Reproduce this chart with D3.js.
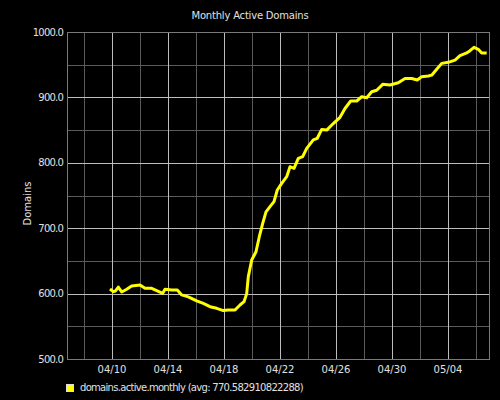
<!DOCTYPE html>
<html>
<head>
<meta charset="utf-8">
<script src="https://cdn.jsdelivr.net/npm/d3@7"></script>
<style>
  body { margin: 0; background: #000; }
  text { font-family: "DejaVu Sans", sans-serif; fill: #e0e0e0; }
</style>
</head>
<body>
<div id="chart"></div>
<script>
// readings of domains.active.monthly, by time
var times = [
    "2014-04-09T20:30", "2014-04-10T02:15", "2014-04-10T06:00", "2014-04-10T10:48",
    "2014-04-10T16:38", "2014-04-11T01:12", "2014-04-11T09:46", "2014-04-12T00:00",
    "2014-04-12T08:34", "2014-04-12T20:04", "2014-04-13T04:38", "2014-04-13T14:54",
    "2014-04-13T18:51", "2014-04-14T06:20", "2014-04-14T15:56", "2014-04-14T23:29",
    "2014-04-15T10:48", "2014-04-16T01:12", "2014-04-16T12:30", "2014-04-17T00:00",
    "2014-04-17T11:30", "2014-04-17T22:48", "2014-04-18T07:22", "2014-04-18T18:51",
    "2014-04-19T03:26", "2014-04-19T10:17", "2014-04-19T14:54", "2014-04-19T17:40",
    "2014-04-19T23:29", "2014-04-20T06:51", "2014-04-20T12:30", "2014-04-20T18:20",
    "2014-04-21T00:00", "2014-04-21T06:51", "2014-04-21T13:42", "2014-04-21T19:22",
    "2014-04-22T02:54", "2014-04-22T11:30", "2014-04-22T17:08", "2014-04-23T00:00",
    "2014-04-23T07:22", "2014-04-23T14:54", "2014-04-23T21:46", "2014-04-24T09:06",
    "2014-04-24T15:56", "2014-04-24T23:29", "2014-04-25T08:04", "2014-04-25T19:22",
    "2014-04-26T06:51", "2014-04-26T15:26", "2014-04-27T01:12", "2014-04-27T11:30",
    "2014-04-27T20:04", "2014-04-28T04:38", "2014-04-28T13:12", "2014-04-28T21:46",
    "2014-04-29T08:04", "2014-04-29T20:34", "2014-04-30T10:48", "2014-04-30T22:18",
    "2014-05-01T09:46", "2014-05-01T19:22", "2014-05-02T02:54", "2014-05-02T14:14",
    "2014-05-02T20:04", "2014-05-03T04:38", "2014-05-03T13:12", "2014-05-04T00:30",
    "2014-05-04T12:00", "2014-05-04T20:34", "2014-05-05T08:04", "2014-05-05T13:42",
    "2014-05-05T20:34", "2014-05-06T03:56", "2014-05-06T09:46", "2014-05-06T18:20"
];
var values = [
    607, 603, 604, 610,
    602.5, 606.6, 611.6, 613,
    608, 608, 604.5, 600.5,
    606.6, 605.5, 605.5, 598,
    595, 589, 585, 580,
    577.5, 574, 575, 575,
    582.6, 587.6, 600, 626,
    651.4, 664, 687, 707.5,
    725, 733, 740.6, 758.4,
    768.6, 778.8, 794, 791.6,
    806.9, 809.4, 822, 835,
    837.5, 851, 850, 860,
    869.6, 883, 894.5, 894.5,
    901, 899.5, 908.7, 911,
    920, 919, 922.5, 929,
    929, 926.6, 931.7, 932.7,
    934, 943, 952, 953.6,
    957, 963.8, 968, 971.4,
    976.6, 973.5, 968, 968
];
var title = "Monthly Active Domains";
var yLabel = "Domains";
var seriesName = "domains.active.monthly";
var seriesAvg = "770.582910822288";
var yTicks = [500, 600, 700, 800, 900, 1000];
var yMinorTicks = [550, 650, 750, 850, 950];
var xStart = "2014-04-06T18:51";
var xEnd = "2014-05-07T00:00";
var gridOrigin = "2014-04-10T00:00";

var width = 500, height = 400;
var margin = {top: 32, right: 10, bottom: 41, left: 67};

var parse = d3.timeParse("%Y-%m-%dT%H:%M");
var data = times.map(function (t, i) {
    return {date: parse(t), value: values[i]};
});

var svg = d3.select("#chart").append("svg")
    .attr("width", width)
    .attr("height", height)
    .style("background", "#000");

var x = d3.scaleTime()
    .domain([parse(xStart), parse(xEnd)])
    .range([margin.left, width - margin.right]);

var y = d3.scaleLinear()
    .domain([500, 1000])
    .range([height - margin.bottom, margin.top]);

// gridlines: minor every 2 days, major every 4 days
var dayIndex = function (d) { return d3.timeDay.count(parse(gridOrigin), d); };
var allDays = d3.timeDay.range(x.domain()[0], x.domain()[1]).filter(function (d) {
    return dayIndex(d) % 2 == 0;
});
var minorDays = allDays.filter(function (d) { return dayIndex(d) % 4 != 0; });
var majorDays = allDays.filter(function (d) { return dayIndex(d) % 4 == 0; });

var grid = svg.append("g").attr("shape-rendering", "crispEdges");
var px = function (v) { return Math.round(v) + 0.5; };

grid.selectAll("line.vminor").data(minorDays)
    .enter().append("line")
    .attr("class", "vminor")
    .attr("x1", function (d) { return px(x(d)); })
    .attr("x2", function (d) { return px(x(d)); })
    .attr("y1", y(1000)).attr("y2", y(500))
    .attr("stroke", "#5a5a5a");

grid.selectAll("line.hminor").data(yMinorTicks)
    .enter().append("line")
    .attr("class", "hminor")
    .attr("x1", margin.left).attr("x2", width - margin.right)
    .attr("y1", function (d) { return px(y(d)); })
    .attr("y2", function (d) { return px(y(d)); })
    .attr("stroke", "#5a5a5a");

grid.selectAll("line.vmajor").data(majorDays)
    .enter().append("line")
    .attr("class", "vmajor")
    .attr("x1", function (d) { return px(x(d)); })
    .attr("x2", function (d) { return px(x(d)); })
    .attr("y1", y(1000)).attr("y2", y(500))
    .attr("stroke", "#bdbdbd");

grid.selectAll("line.hmajor").data(yTicks)
    .enter().append("line")
    .attr("class", "hmajor")
    .attr("x1", margin.left).attr("x2", width - margin.right)
    .attr("y1", function (d) { return px(y(d)); })
    .attr("y2", function (d) { return px(y(d)); })
    .attr("stroke", "#bdbdbd");

// frame
svg.append("rect")
    .attr("x", margin.left + 0.5)
    .attr("y", margin.top + 0.5)
    .attr("width", width - margin.left - margin.right - 1)
    .attr("height", height - margin.top - margin.bottom)
    .attr("fill", "none")
    .attr("stroke", "#7a7a7a")
    .attr("shape-rendering", "crispEdges");

// axes labels
svg.selectAll("text.ytick").data(yTicks)
    .enter().append("text")
    .attr("class", "ytick")
    .attr("x", margin.left - 4)
    .attr("y", function (d) { return y(d) + 3.5; })
    .attr("text-anchor", "end")
    .style("font-size", "10px")
    .style("letter-spacing", "-0.8px")
    .text(function (d) { return d3.format(".1f")(d); });

svg.selectAll("text.xtick").data(majorDays)
    .enter().append("text")
    .attr("class", "xtick")
    .attr("x", function (d) { return x(d); })
    .attr("y", height - margin.bottom + 14)
    .attr("text-anchor", "middle")
    .style("font-size", "10px")
    .text(function (d) { return d3.timeFormat("%m/%d")(d); });

svg.append("text")
    .attr("x", width / 2)
    .attr("y", 19)
    .attr("text-anchor", "middle")
    .style("font-size", "10px")
    .style("letter-spacing", "-0.2px")
    .text(title);

svg.append("text")
    .attr("transform", "translate(31," + (margin.top + (height - margin.top - margin.bottom) / 2 + 8) + ") rotate(-90)")
    .attr("text-anchor", "middle")
    .style("font-size", "10px")
    .text(yLabel);

// series line
var line = d3.line()
    .x(function (d) { return x(d.date); })
    .y(function (d) { return y(d.value); });

svg.append("path")
    .datum(data)
    .attr("d", line)
    .attr("fill", "none")
    .attr("stroke", "#ffff00")
    .attr("stroke-width", 3)
    .attr("stroke-linejoin", "round");

// legend
svg.append("rect")
    .attr("x", 66.5).attr("y", 384.5)
    .attr("width", 7).attr("height", 7)
    .attr("fill", "#ffff00")
    .attr("stroke", "#ddd");

svg.append("text")
    .attr("x", 80)
    .attr("y", 391)
    .style("font-size", "10px")
    .style("letter-spacing", "-0.7px")
    .text(seriesName + " (avg: " + seriesAvg + ")");
</script>
</body>
</html>
